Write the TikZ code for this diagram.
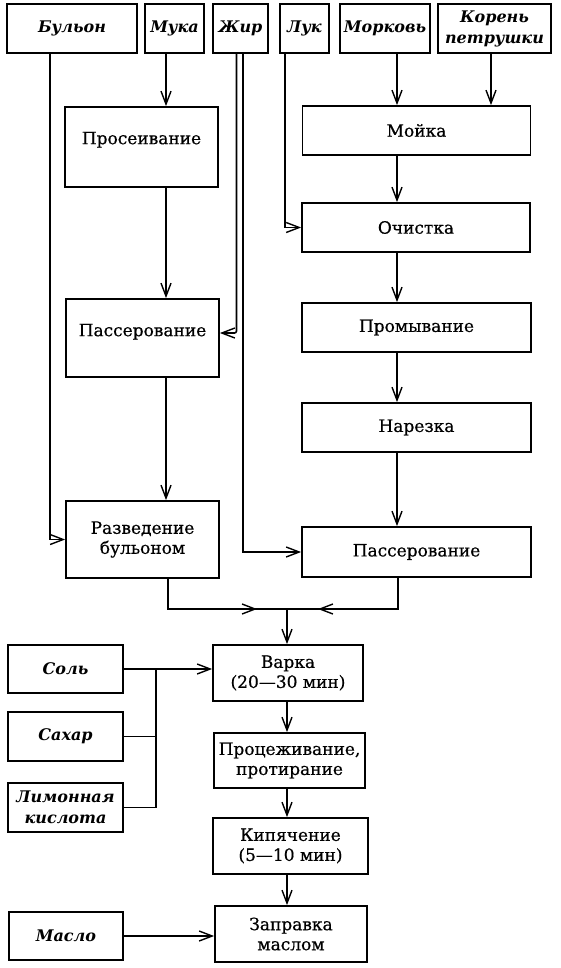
\documentclass[tikz,border=0pt]{standalone}
\usepackage{fontspec}
\setmainfont{DejaVu Serif}
\newfontfamily\procfamily[FakeBold=0.6]{DejaVu Serif}
\usetikzlibrary{arrows.meta}
\newcommand\procfont{\procfamily\fontsize{17}{20}\selectfont}
\newcommand\lblfont{\fontsize{16}{21}\selectfont\bfseries\itshape}
\begin{document}
\begin{tikzpicture}[x=1pt,y=-1pt,
  box/.style={draw, line width=1.8pt, inner sep=0pt, align=center, font=\procfont},
  lbl/.style={box, font=\lblfont},
  ln/.style={line width=1.6pt},
  arr/.style={line width=1.6pt, -{Straight Barb[length=13pt,width=10pt,line width=1.4pt]}},
  wh/.style 2 args={minimum width=#1pt, minimum height=#2pt}]
\fill[white] (0,0) rectangle (561,968);
\useasboundingbox (0,0) rectangle (561,968);
% top row
\node[lbl,wh={130}{49}] (bul) at (72,28.5) {Бульон};
\node[lbl,wh={59}{49}] (muka) at (174.5,28.5) {Мука};
\node[lbl,wh={55}{49}] (zhir) at (240.5,28.5) {Жир};
\node[lbl,wh={49}{49}] (luk) at (304.5,28.5) {Лук};
\node[lbl,wh={90}{49}] (mork) at (385,28.5) {Морковь};
\node[lbl,wh={113}{49}] (koren) at (494.5,28.5) {Корень\\петрушки};
% left column
\node[box,wh={153}{80},text depth=18pt] (pros) at (141.5,147) {Просеивание};
\node[box,wh={153}{78},text depth=16pt] (passL) at (142.5,338) {Пассерование};
\node[box,wh={153}{77}] (razv) at (142.5,539.5) {Разведение\\бульоном};
% right column
\node[box,wh={228}{49}] (moika) at (416.5,130.5) {Мойка};
\node[box,wh={228}{49}] (ochist) at (416,227.5) {Очистка};
\node[box,wh={229}{49}] (promyv) at (416.5,327.5) {Промывание};
\node[box,wh={229}{49}] (narezka) at (416.5,427.5) {Нарезка};
\node[box,wh={229}{50}] (passR) at (416.5,552) {Пассерование};
% bottom column
\node[box,wh={150}{56}] (varka) at (288,673) {Варка\\(20—30 мин)};
\node[box,wh={151}{55}] (proc) at (289.5,760.5) {Процеживание,\\протирание};
\node[box,wh={155}{56}] (kip) at (290.5,846) {Кипячение\\(5—10 мин)};
\node[box,wh={152}{56}] (zapr) at (291,934) {Заправка\\маслом};
\node[lbl,wh={115}{48}] (sol) at (65.5,669) {Соль};
\node[lbl,wh={115}{49}] (sahar) at (65.5,736.5) {Сахар};
\node[lbl,wh={115}{49}] (limon) at (65.5,807.5) {Лимонная\\кислота};
\node[lbl,wh={114}{48}] (maslo) at (66,936) {Масло};
% helper coordinates
\coordinate (bulb) at ([xshift=-22pt]bul.south);
\coordinate (mukab) at ([xshift=-8.5pt]muka.south);
\coordinate (prosb) at ([xshift=24.5pt]pros.south);
\coordinate (passLb) at ([xshift=23.5pt]passL.south);
\coordinate (zhirA) at ([xshift=-4pt]zhir.south);
\coordinate (zhirB) at ([xshift=2.5pt]zhir.south);
\coordinate (passLe) at ([yshift=5pt]passL.east);
\coordinate (lukb) at ([xshift=-19.5pt]luk.south);
\coordinate (morkb) at ([xshift=12pt]mork.south);
\coordinate (korenb) at ([xshift=-3.5pt]koren.south);
\coordinate (rx) at ([xshift=-19.5pt]moika.south);
\coordinate (razvb) at ([xshift=25.5pt]razv.south);
\coordinate (passRb) at ([xshift=-18.5pt]passR.south);
\coordinate (j) at (287,609);
\coordinate (bus) at (156,669);
% connectors top part
\draw[arr] (bulb) |- (razv.west);
\draw[arr] (mukab) -- (mukab |- pros.north);
\draw[arr] (prosb) -- (prosb |- passL.north);
\draw[arr] (passLb) -- (passLb |- razv.north);
\draw[arr,rounded corners=2pt] (zhirA) |- (passLe);
\draw[arr] (zhirB) |- (passR.west);
\draw[arr] (lukb) |- (ochist.west);
\draw[arr] (morkb) -- (morkb |- moika.north);
\draw[arr] (korenb) -- (korenb |- moika.north);
\draw[arr] (rx) -- (rx |- ochist.north);
\draw[arr] (rx |- ochist.south) -- (rx |- promyv.north);
\draw[arr] (rx |- promyv.south) -- (rx |- narezka.north);
\draw[arr] (rx |- narezka.south) -- (rx |- passR.north);
% merge
\draw[ln] (razvb) |- (j);
\draw[arr] (razvb |- j) -- ([xshift=-30pt]j);
\draw[ln] (passRb) |- (j);
\draw[arr] (passRb |- j) -- ([xshift=31pt]j);
\draw[arr] (j) -- (j |- varka.north);
% bottom
\draw[arr] (sol.east) -- (sol.east -| varka.west);
\draw[ln] (sahar.east) -- (sahar.east -| bus);
\draw[ln] (limon.east) -| (bus);
\draw[arr] (maslo.east) -- (maslo.east -| zapr.west);
\draw[arr] (varka.south -| j) -- (proc.north -| j);
\draw[arr] (proc.south -| j) -- (kip.north -| j);
\draw[arr] (kip.south -| j) -- (zapr.north -| j);
\end{tikzpicture}
\end{document}
